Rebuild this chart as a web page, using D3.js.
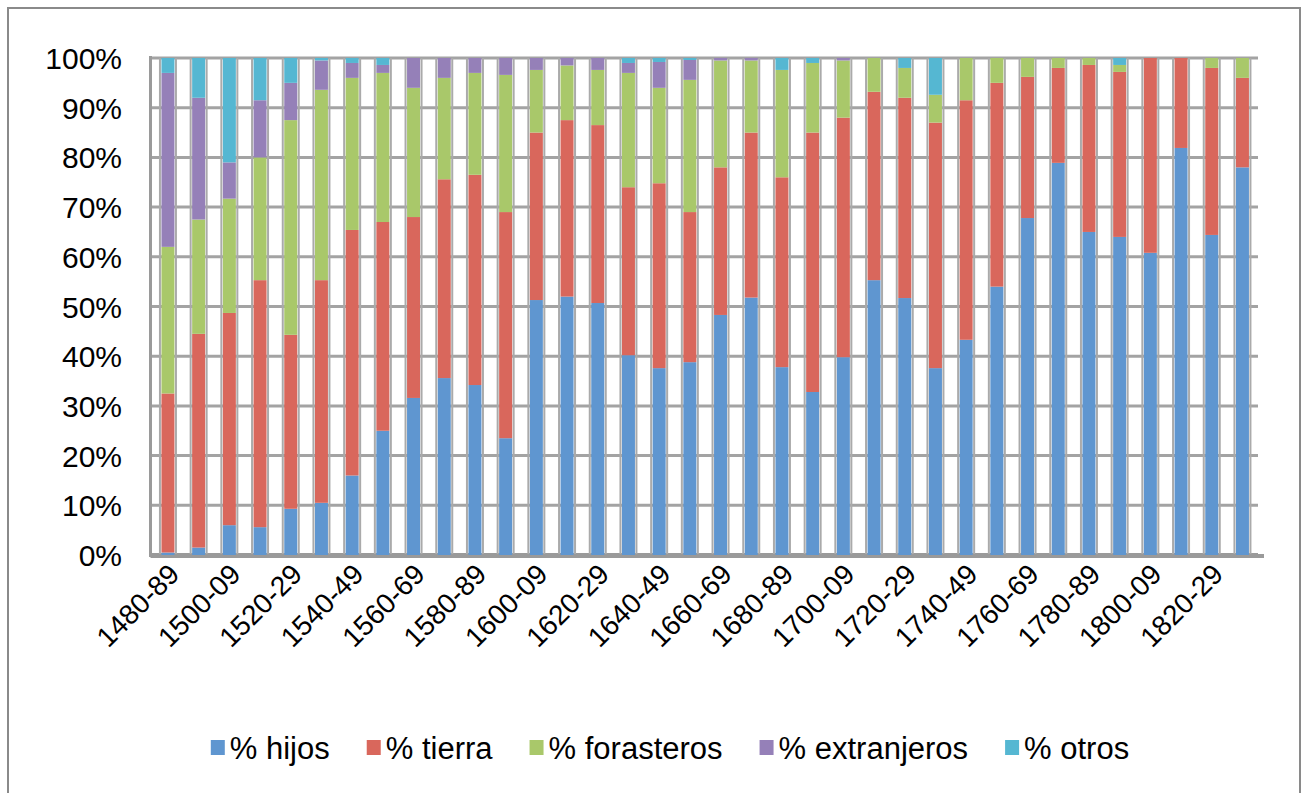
<!DOCTYPE html>
<html><head><meta charset="utf-8">
<script src="https://cdn.jsdelivr.net/npm/d3@7"></script>
<style>html,body{margin:0;padding:0;background:#fff}svg{display:block}text{font-family:"Liberation Sans",Arial,sans-serif;fill:#000}</style>
</head><body>
<svg id="c" width="1308" height="793"></svg>
<script>
const categories = ["1480-89","1490-99","1500-09","1510-19","1520-29","1530-39","1540-49","1550-59","1560-69","1570-79","1580-89","1590-99","1600-09","1610-19","1620-29","1630-39","1640-49","1650-59","1660-69","1670-79","1680-89","1690-99","1700-09","1710-19","1720-29","1730-39","1740-49","1750-59","1760-69","1770-79","1780-89","1790-99","1800-09","1810-19","1820-29","1830-39"];
const hijos       = [0.5,1.5,6,5.6,9.3,10.5,16,25,31.6,35.6,34.2,23.5,51.3,52,50.7,40.2,37.6,38.8,48.3,51.8,37.8,32.8,39.8,55.3,51.7,37.6,43.3,54,67.8,78.9,65,64,60.8,81.9,64.4,78];
const tierra      = [32,43,42.7,49.7,35,44.8,49.4,42,36.4,40,42.3,45.5,33.7,35.5,35.8,33.8,37.2,30.2,29.7,33.2,38.2,52.2,48.2,37.9,40.3,49.4,48.2,41,28.4,19.1,33.6,33.2,39.2,18.1,33.6,18];
const forasteros  = [29.5,23,23,24.7,43.2,38.3,30.6,30,26,20.4,20.5,27.6,12.6,11,11.1,23,19.2,26.6,21.5,14.5,21.6,14,11.5,6.8,6,5.6,8.5,5,3.8,2,1.4,1.4,0,0,2,4];
const extranjeros = [35,24.5,7.3,11.5,7.5,5.9,3,1.6,6,4,3,3.4,2.4,1.5,2.4,2,5.2,4,0.5,0.5,0,0,0.5,0,0,0,0,0,0,0,0,0,0,0,0,0];
const otros       = [3,8,21,8.5,5,0.5,1,1.4,0,0,0,0,0,0,0,1,0.8,0.4,0,0,2.4,1,0,0,2,7.4,0,0,0,0,0,1.4,0,0,0,0];
const seriesNames = ["% hijos","% tierra","% forasteros","% extranjeros","% otros"];
const seriesColors = ["#5f96d0","#d9675c","#a9c86a","#9580b8","#55b7d2"];
const yTicks = [0,0.1,0.2,0.3,0.4,0.5,0.6,0.7,0.8,0.9,1];

const keys = ["h","t","f","e","o"];
const rows = categories.map((c,i)=>({cat:c,h:hijos[i],t:tierra[i],f:forasteros[i],e:extranjeros[i],o:otros[i]}));
const stacked = d3.stack().keys(keys).offset(d3.stackOffsetExpand)(rows);

const svg = d3.select("#c");
const L=150.5, T=58, B=555;
const x = d3.scaleBand().domain(categories).range([152.6,1257.8]).padding(0);
const y = d3.scaleLinear().domain([0,1]).range([B,T]);
const bw = 13;
const bx = c => x(c) + (x.bandwidth()-bw)/2;

// outer border
svg.append("rect").attr("x",8).attr("y",8).attr("width",1292).attr("height",810)
  .attr("fill","none").attr("stroke","#8a8a8a").attr("stroke-width",2);

// horizontal gridlines
svg.append("g").selectAll("line").data(yTicks).join("line")
  .attr("x1",L).attr("x2",1258).attr("y1",d=>y(d)).attr("y2",d=>y(d))
  .attr("stroke",d=>d===0?"#9a9a9a":"#a3a3a3").attr("stroke-width",d=>d===0?4:3);

// vertical grid edges beside each bar
const vg = svg.append("g");
categories.forEach(c=>{
  [bx(c)-1.5, bx(c)+bw+1.5].forEach(xx=>{
    vg.append("line").attr("x1",xx).attr("x2",xx).attr("y1",T).attr("y2",B)
      .attr("stroke","#aaaaaa").attr("stroke-width",2);
  });
});
// left axis
svg.append("line").attr("x1",L).attr("x2",L).attr("y1",T-2).attr("y2",B+2)
  .attr("stroke","#9a9a9a").attr("stroke-width",3);
// floor line
svg.append("line").attr("x1",L).attr("x2",1264).attr("y1",B+1).attr("y2",B+1)
  .attr("stroke","#9a9a9a").attr("stroke-width",4);

// bars
svg.append("g").selectAll("g").data(stacked).join("g")
  .attr("fill",(d,i)=>seriesColors[i])
  .selectAll("rect").data(d=>d).join("rect")
  .attr("x",d=>bx(d.data.cat)).attr("width",bw)
  .attr("y",d=>y(d[1])).attr("height",d=>Math.max(0,y(d[0])-y(d[1])));

// y labels
svg.append("g").selectAll("text").data(yTicks).join("text")
  .attr("x",122).attr("y",d=>y(d)+11).attr("text-anchor","end")
  .attr("font-size",30).text(d=>d3.format(".0%")(d));

// x labels
svg.append("g").selectAll("text").data(categories.filter((c,i)=>i%2===0)).join("text")
  .attr("text-anchor","end").attr("font-size",28)
  .attr("transform",c=>`translate(${x(c)+x.bandwidth()/2+13},${B+21}) rotate(-45)`)
  .text(c=>c);

// legend
const lg = svg.append("g");
let cx = 0;
seriesNames.forEach((n,i)=>{
  const g = lg.append("g").attr("transform",`translate(${cx},0)`);
  g.append("rect").attr("x",0).attr("y",-19).attr("width",14).attr("height",15).attr("fill",seriesColors[i]);
  const t = g.append("text").attr("x",19).attr("y",0).attr("font-size",31).text(n);
  cx += 19 + t.node().getComputedTextLength() + 37;
});
const total = cx - 37;
lg.attr("transform",`translate(${670-total/2},${759})`);
</script>
</body></html>
